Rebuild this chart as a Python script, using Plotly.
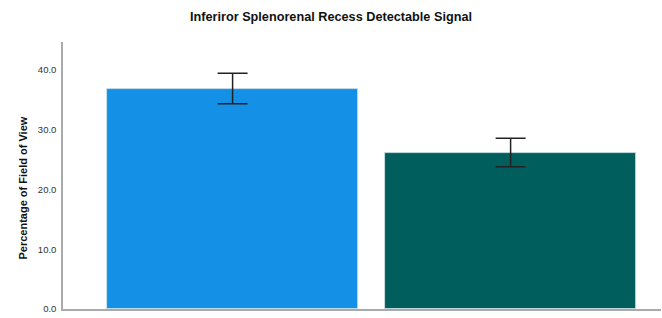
import plotly.graph_objects as go

groups = ["Group 1", "Group 2"]
positions = [0, 1]
means = [36.9, 26.2]
ci_half = [2.55, 2.37]
colors = ["#1490E6", "#005E5C"]
y_ticks = [0, 10, 20, 30, 40]
y_tick_labels = ["0.0", "10.0", "20.0", "30.0", "40.0"]
y_title = "Percentage of Field of View"

fig = go.Figure()
fig.add_trace(go.Bar(
    x=positions, y=means, width=0.9,
    marker=dict(color=colors, line=dict(color="#cfe3e8", width=0.8)),
    error_y=dict(type="data", array=ci_half, visible=True, color="#222222", thickness=1.5, width=15),
    hovertext=groups,
))
fig.update_layout(
    width=662, height=318,
    margin=dict(l=63, r=1, t=42, b=9, autoexpand=False),
    paper_bgcolor="white", plot_bgcolor="white",
    title=dict(text="<b>Inferiror Splenorenal Recess Detectable Signal</b>", x=0.5, xanchor="center",
               y=0.9465, yanchor="middle", font=dict(family="Liberation Sans, Arial", size=12.7, color="#111111")),
    showlegend=False,
    bargap=0,
)
fig.add_annotation(text="<b>" + y_title + "</b>", xref="paper", yref="paper", x=-0.0669, y=0.455,
                   textangle=-90, showarrow=False, xanchor="center", yanchor="middle",
                   font=dict(family="Liberation Sans, Arial", size=11, color="#111111"))
fig.update_xaxes(range=[-0.61, 1.541], showticklabels=False, showgrid=False, zeroline=False,
                 showline=True, linecolor="#aaaaaa", linewidth=1.5, ticks="", automargin=False)
fig.update_yaxes(range=[0, 44.7], tickvals=y_ticks, ticktext=y_tick_labels, showgrid=False, zeroline=False,
                 showline=True, linecolor="#aaaaaa", linewidth=1.5, ticks="", ticklen=0,
                 automargin=False, ticklabelstandoff=3,
                 tickfont=dict(family="Liberation Sans, Arial", size=9.5, color="#333333"))
fig.write_html("out.html", config={"displayModeBar": False},
               post_script="document.body.style.margin='0';document.body.style.overflow='hidden';")
